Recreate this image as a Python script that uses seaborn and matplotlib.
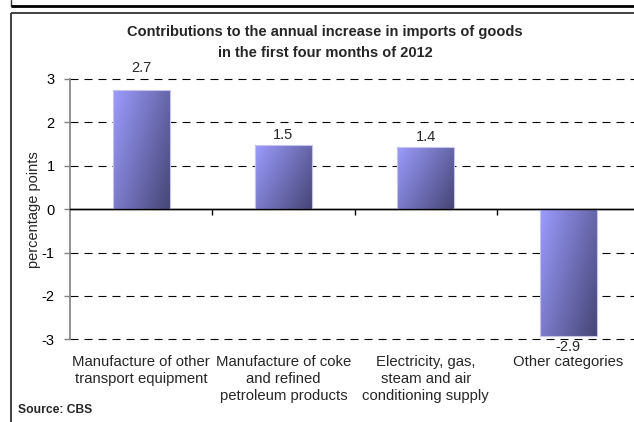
import numpy as np
import pandas as pd
import matplotlib
matplotlib.use("Agg")
import matplotlib.pyplot as plt
from matplotlib.lines import Line2D
import seaborn as sns

# ---- data ----
categories = [
    "Manufacture of other\ntransport equipment",
    "Manufacture of coke\nand refined\npetroleum products",
    "Electricity, gas,\nsteam and air\nconditioning supply",
    "Other categories",
]
values = [2.74, 1.49, 1.435, -2.93]
value_labels = ["2.7", "1.5", "1.4", "-2.9"]
y_ticks = [-3, -2, -1, 0, 1, 2, 3]
title = "Contributions to the annual increase in imports of goods\nin the first four months of 2012"
y_label = "percentage points"
source = "Source: CBS"

# ---- style ----
sns.set_style("white")
plt.rcParams["font.family"] = ["Liberation Sans", "DejaVu Sans"]
plt.rcParams["axes.unicode_minus"] = False

W, H = 634, 422
fig = plt.figure(figsize=(W / 100, H / 100), dpi=100)
ax = fig.add_axes([70 / W, (H - 339.3) / H, 569.2 / W, (339.3 - 79) / H])

df = pd.DataFrame({"cat": categories, "val": values})
sns.barplot(data=df, x="cat", y="val", ax=ax, width=0.4, color="#8888dd",
            saturation=1, zorder=3)
ax.set_ylim(-3, 3)
ax.set_xlim(-0.5, len(categories) - 0.5)

# gradient fill clipped to each bar
c_light = np.array([156, 156, 255]) / 255.0
c_dark = np.array([70, 70, 118]) / 255.0
ny, nx = 100, 60
yy, xx = np.mgrid[0:1:ny * 1j, 0:1:nx * 1j]
for p in ax.patches:
    bx, by = p.get_x(), p.get_y()
    bw, bh = p.get_width(), p.get_height()
    y0, y1 = min(by, by + bh), max(by, by + bh)
    t = np.clip(0.62 * xx + 0.38 * yy, 0, 1)
    img = c_light[None, None, :] * (1 - t[..., None]) + c_dark[None, None, :] * t[..., None]
    im = ax.imshow(img, extent=(bx, bx + bw, y0, y1), origin="upper",
                   aspect="auto", zorder=3, interpolation="bilinear")
    im.set_clip_path(p)
    p.set_facecolor("none")
    p.set_edgecolor("#c4c4ee")
    p.set_linewidth(0.8)
    p.set_zorder(4)
ax.set_ylim(-3, 3)
ax.set_xlim(-0.5, len(categories) - 0.5)

# gridlines
ax.set_yticks(y_ticks)
for yv in y_ticks:
    if yv != 0:
        ax.axhline(yv, color="black", lw=0.8, linestyle=(0, (7.2, 5.4)), zorder=1,
                   clip_on=False)
ax.axhline(0, color="black", lw=1.0, zorder=5)

# spines
for s in ["top", "right", "bottom"]:
    ax.spines[s].set_visible(False)
ax.spines["left"].set_color("#808080")
ax.spines["left"].set_linewidth(1.2)
ax.tick_params(axis="y", which="major", direction="out", length=4, width=1,
               color="#808080", labelsize=10.5, pad=7, left=True, labelcolor="black")

# small ticks on zero line at category boundaries
ax.set_xticks([i + 0.5 for i in range(len(categories) - 1)])
ax.set_xticklabels([])
ax.tick_params(axis="x", which="major", direction="out", length=4, width=1,
               color="black", bottom=True)
ax.spines["bottom"].set_visible(True)
ax.spines["bottom"].set_position(("data", 0))
ax.spines["bottom"].set_linewidth(1.0)
ax.spines["bottom"].set_color("black")
ax.set_xlabel("")

sec = ax.secondary_xaxis("bottom")
sec.set_xticks(range(len(categories)))
sec.set_xticklabels(categories, fontsize=10.7, linespacing=1.3, va="top")
sec.tick_params(axis="x", length=0, pad=11)
sec.spines["bottom"].set_visible(False)

ax.set_ylabel(y_label, fontsize=10.5, labelpad=0.5)

# value labels
label_offsets = [16, 7, 7, -7.5]
for i, (v, lab) in enumerate(zip(values, value_labels)):
    ax.annotate(lab, xy=(i, v), xytext=(0, label_offsets[i]),
                textcoords="offset points", ha="center", va="center",
                fontsize=10.5, zorder=6)

# title and source
fig.text(325 / W, 1 - 42.5 / H, title, ha="center", va="center",
         fontsize=10.5, fontweight="bold", linespacing=1.55)
fig.text(18 / W, 1 - 410 / H, source, ha="left", va="center",
         fontsize=8.7, fontweight="bold")

# frame decorations
def fl(x0, y0, x1, y1, **kw):
    fig.add_artist(Line2D([x0 / W, x1 / W], [1 - y0 / H, 1 - y1 / H],
                          transform=fig.transFigure, **kw))

fl(11, 0, 11, 6, color="#333333", lw=1.0)
fl(11, 5.5, W, 5.5, color="black", lw=2.0, solid_capstyle="butt")
fl(11, 12.7, W, 12.7, color="#333333", lw=1.3, solid_capstyle="butt")
fl(11, 12.7, 11, H, color="#333333", lw=1.3, solid_capstyle="butt")

fig.savefig("out.png", dpi=100)
